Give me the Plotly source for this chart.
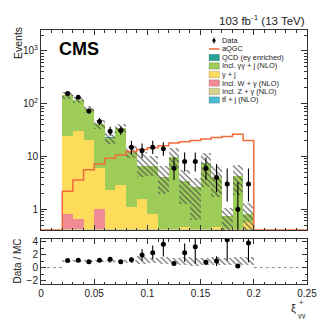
import numpy as np
import plotly.graph_objects as go

# ---------------- data ----------------
bin_edges = [0.02, 0.03, 0.04, 0.05, 0.06, 0.07, 0.08, 0.09, 0.10, 0.11,
             0.12, 0.13, 0.14, 0.15, 0.16, 0.17, 0.18, 0.19, 0.20]

data_counts = [157, 132, 73, 46, 30, 31, 15, 13, 15, 14, 6, 8, 8, 6, 4, 3, 1, 3]
data_err_up = [13, 12, 9.5, 7.8, 6.5, 6.6, 4.8, 4.6, 4.8, 4.7, 3.6, 3.9, 3.9, 3.6, 3.2, 2.9, 2.3, 2.9]
data_err_dn = [12, 11, 8.5, 6.8, 5.4, 5.5, 3.8, 3.6, 3.8, 3.7, 2.4, 2.8, 2.8, 2.4, 1.9, 1.6, 0.83, 1.6]

# stacked backgrounds (bottom -> top)
tt_j = [0.41, 0.41, 0.41, 0.41, 0.41, 0.41, 0.41, 0.41, 0.41, 0.41, 0.41, 0.41, 0.41, 0.41, 0.41, 0.41, 0.41, 0.41]
z_g = [0.01, 0.01, 0.01, 0.01, 0.01, 0.01, 0.01, 0.01, 0.01, 0.01, 0.01, 0.01, 0.01, 0.01, 0.01, 0.01, 0.01, 0.01]
w_g = [0.38, 0.22, 0.0, 0.58, 0.0, 0.0, 0.0, 0.0, 0.0, 0.0, 0.0, 0.0, 0.0, 0.0, 0.0, 0.0, 0.0, 0.0]
g_j = [23.2, 29.2, 20.2, 5.0, 1.88, 2.48, 0.70, 1.13, 0.39, 0.0, 0.0, 0.05, 0.0, 0.0, 0.05, 0.0, 0.0, 0.16]
gg_j = [120, 89, 59, 35, 20.6, 32, 11.3, 5.1, 5.8, 3.6, 9.3, 3.0, 2.2, 7.0, 3.6, 0.32, 3.9, 0.22]
qcd = [0.8, 0.6, 0.4, 0.2, 0.1, 0.15, 0.05, 0.03, 0.03, 0.02, 0.04, 0.01, 0.01, 0.03, 0.02, 0.005, 0.02, 0.005]

mc_unc_up = [20, 17, 12, 8, 5.5, 7, 3.0, 5.5, 3.4, 2.5, 4.5, 2.1, 1.3, 4.0, 2.4, 0.3, 2.6, 0.5]
mc_unc_dn = [20, 17, 12, 8, 5.5, 7, 3.0, 2.6, 2.4, 2.1, 4.2, 2.2, 2.0, 4.8, 2.4, 0.4, 2.5, 0.5]

aqgc = [2.2, 3.6, 5.6, 7.2, 9.3, 10.7, 12.5, 13.5, 14.6, 16, 18, 19, 20, 21.5, 23, 24, 26.5, 20]

ratio = [1.1, 1.12, 0.92, 1.12, 1.3, 0.9, 1.2, 1.95, 2.3, 3.6, 0.62, 2.3, 3.2, 0.82, 1.0, 4.3, 0.25, 3.8]
ratio_err_up = [0.1, 0.12, 0.12, 0.2, 0.35, 0.2, 0.4, 0.9, 1.1, 1.0, 0.3, 1.4, 1.5, 0.4, 0.75, 1.5, 0.15, 0.6]
ratio_err_dn = [0.1, 0.12, 0.12, 0.2, 0.35, 0.2, 0.4, 0.9, 1.0, 1.9, 0.3, 1.4, 2.6, 0.4, 0.75, 3.2, 0.15, 3.0]

legend_labels = ["Data", "aQGC", "QCD (eγ enriched)", "Incl. γγ + j (NLO)", "γ + j",
                 "Incl. W + γ (NLO)", "Incl. Z + γ (NLO)", "tt̄ + j (NLO)"]

# ---------------- styles ----------------
C_QCD = "#26a193"
C_GGJ = "#9dcc58"
C_GJ = "#fddc5c"
C_WG = "#f28b95"
C_ZG = "#d6cf8e"
C_TT = "#4cb8cf"
C_AQGC = "#f06a3a"
FONT = "Liberation Sans, Arial, sans-serif"
AX = "#333333"
TXT = "#222222"

W, H = 332, 319
ML, MR, MT, MB = 33, 33, 22, 43
PW, PH = W - ML - MR, H - MT - MB

def px_x(x):
    return (x - ML) / PW

def px_y(y):
    return (H - MB - y) / PH

Y_MAIN_LO = -0.393
Y_MAIN_HI = 3.397
Y_MIN = 10 ** Y_MAIN_LO

edges = np.array(bin_edges)
centers = 0.5 * (edges[:-1] + edges[1:])
widths = np.diff(edges)

stack_order = [(tt_j, C_TT), (z_g, C_ZG), (w_g, C_WG), (g_j, C_GJ), (gg_j, C_GGJ), (qcd, C_QCD)]
cum = np.cumsum([np.array(v, dtype=float) for v, _ in stack_order], axis=0)
total = cum[-1]

fig = go.Figure()

# stacked histograms (drawn from tallest cumulative to smallest)
for k in range(len(stack_order) - 1, -1, -1):
    fig.add_trace(go.Bar(x=centers, y=cum[k], width=widths, marker=dict(color=stack_order[k][1], line=dict(width=0)),
                         showlegend=False, xaxis="x", yaxis="y", hoverinfo="skip"))

# MC uncertainty band (hatched)
unc_up = np.array(mc_unc_up)
unc_dn = np.array(mc_unc_dn)
band_lo = np.maximum(total - unc_dn, 1e-3)
band_hi = total + unc_up
hatch = dict(shape="\\", fgcolor="#4a4a4a", bgcolor="rgba(0,0,0,0)", size=4, solidity=0.25, fillmode="replace")
fig.add_trace(go.Bar(x=centers, y=band_hi - band_lo, base=band_lo, width=widths,
                     marker=dict(color="rgba(0,0,0,0)", line=dict(width=0), pattern=hatch),
                     showlegend=False, xaxis="x", yaxis="y", hoverinfo="skip"))

# aQGC step line
aq_x = [0.0] + list(edges) + [0.25]
aq_y = [Y_MIN] + list(aqgc) + [Y_MIN, Y_MIN]
fig.add_trace(go.Scatter(x=aq_x, y=aq_y, mode="lines", line=dict(color=C_AQGC, width=1.5, shape="hv"),
                         showlegend=False, xaxis="x", yaxis="y", hoverinfo="skip"))

# data
fig.add_trace(go.Scatter(x=centers, y=data_counts, mode="markers",
                         marker=dict(color="black", size=5, symbol="circle"),
                         error_y=dict(type="data", symmetric=False, array=data_err_up, arrayminus=data_err_dn,
                                      color="black", thickness=1.1, width=0),
                         showlegend=False, xaxis="x", yaxis="y", hoverinfo="skip"))

# ratio panel: MC band
r_lo = band_lo / total
r_hi = band_hi / total
fig.add_trace(go.Bar(x=centers, y=r_hi - r_lo, base=r_lo, width=widths,
                     marker=dict(color="rgba(0,0,0,0)", line=dict(width=0), pattern=hatch),
                     showlegend=False, xaxis="x2", yaxis="y2", hoverinfo="skip"))
# dotted zero level outside the populated range
fig.add_trace(go.Scatter(x=[0.0, edges[0], None, edges[-1], 0.25], y=[0, 0, None, 0, 0], mode="lines",
                         line=dict(color="#888888", width=1, dash="dot"),
                         showlegend=False, xaxis="x2", yaxis="y2", hoverinfo="skip"))
fig.add_trace(go.Scatter(x=centers, y=ratio, mode="markers",
                         marker=dict(color="black", size=5),
                         error_y=dict(type="data", symmetric=False, array=ratio_err_up, arrayminus=ratio_err_dn,
                                      color="black", thickness=1.1, width=0),
                         showlegend=False, xaxis="x2", yaxis="y2", hoverinfo="skip"))

# ---------------- axes ----------------
main_bottom = px_y(222)
ratio_top = px_y(231)

common_x = dict(range=[0, 0.25], ticks="inside", ticklen=5, tickwidth=1, tickcolor=AX,
                showline=True, linecolor=AX, linewidth=1, mirror="allticks", showgrid=False, zeroline=False,
                tickvals=[0, 0.05, 0.1, 0.15, 0.2, 0.25],
                minor=dict(ticks="inside", ticklen=2.5, dtick=0.01, tickcolor=AX, showgrid=False))

maj = [1, 10, 100, 1000]
minor_vals = [m * 10 ** e for e in range(-1, 4) for m in range(2, 10)]
fig.update_layout(
    width=W, height=H, margin=dict(l=ML, r=MR, t=MT, b=MB),
    paper_bgcolor="white", plot_bgcolor="white", barmode="overlay", bargap=0,
    font=dict(family=FONT, size=10, color=TXT),
    showlegend=False,
    xaxis=dict(domain=[0, 1], anchor="y", showticklabels=False, **common_x),
    yaxis=dict(domain=[main_bottom, 1], anchor="x", type="log", range=[Y_MAIN_LO, Y_MAIN_HI],
               tickmode="array", tickvals=maj, ticktext=["1", "10", "10<sup>2</sup>", "10<sup>3</sup>"],
               ticks="inside", ticklen=6, tickcolor=AX, showline=True, linecolor=AX, linewidth=1,
               mirror="allticks", showgrid=False, zeroline=False, tickfont=dict(size=10, color=TXT),
               minor=dict(ticks="inside", ticklen=3, tickmode="array", tickvals=minor_vals, tickcolor=AX,
                          showgrid=False)),
    xaxis2=dict(domain=[0, 1], anchor="y2", showticklabels=True, tickfont=dict(size=10, color=TXT),
                ticktext=["0", "0.05", "0.1", "0.15", "0.2", "0.25"], **common_x),
    yaxis2=dict(domain=[0, ratio_top], anchor="x2", range=[-2.52, 4.4], tickvals=[-2, 0, 2, 4],
                ticktext=["−2", "0", "2", "4"],
                ticks="inside", ticklen=5, tickcolor=AX, showline=True, linecolor=AX, linewidth=1,
                mirror="allticks", showgrid=False, zeroline=False, tickfont=dict(size=10, color=TXT),
                minor=dict(ticks="inside", ticklen=2.5, dtick=1, tickcolor=AX, showgrid=False)),
)

# ---------------- text ----------------
ann = []
ann.append(dict(x=px_x(299), y=px_y(21), xref="paper", yref="paper", xanchor="right", yanchor="bottom",
                text="103 fb<sup>-1</sup> (13 TeV)", showarrow=False, font=dict(size=11.5, color=TXT)))
ann.append(dict(x=px_x(49), y=px_y(29), xref="paper", yref="paper", xanchor="left", yanchor="top",
                text="<b>CMS</b>", showarrow=False, font=dict(size=18, color="black")))
ann.append(dict(x=px_x(2), y=px_y(17), xref="paper", yref="paper", xanchor="left", yanchor="top",
                text="Events", textangle=-90, showarrow=False, font=dict(size=10.5, color=TXT)))
ann.append(dict(x=px_x(2), y=px_y(253), xref="paper", yref="paper", xanchor="left", yanchor="middle",
                text="Data / MC", textangle=-90, showarrow=False, font=dict(size=10, color=TXT)))
ann.append(dict(x=px_x(290), y=px_y(300), xref="paper", yref="paper", xanchor="right", yanchor="middle",
                text="ξ", showarrow=False, font=dict(size=11, color=TXT)))
ann.append(dict(x=px_x(289), y=px_y(294), xref="paper", yref="paper", xanchor="left", yanchor="middle",
                text="+", showarrow=False, font=dict(size=7.5, color=TXT)))
ann.append(dict(x=px_x(288), y=px_y(307), xref="paper", yref="paper", xanchor="left", yanchor="middle",
                text="γγ", showarrow=False, font=dict(size=7.5, color=TXT)))

# manual compact legend
shapes = []
row0, drow = 32.5, 8.5
sx0, sx1, tx = 201, 211.5, 213
swatch_cols = [None, None, C_QCD, C_GGJ, C_GJ, C_WG, C_ZG, C_TT]
for k, lab in enumerate(legend_labels):
    yc = row0 + drow * k
    ann.append(dict(x=px_x(tx), y=px_y(yc), xref="paper", yref="paper", xanchor="left", yanchor="middle",
                    text=lab, showarrow=False, font=dict(size=7.4, color=TXT), borderpad=0))
    if k == 0:
        shapes.append(dict(type="line", xref="paper", yref="paper", x0=px_x(206), x1=px_x(206),
                           y0=px_y(yc - 3), y1=px_y(yc + 3), line=dict(color="black", width=1)))
        shapes.append(dict(type="circle", xref="paper", yref="paper", x0=px_x(204.3), x1=px_x(207.7),
                           y0=px_y(yc - 1.7), y1=px_y(yc + 1.7), fillcolor="black", line=dict(width=0)))
    elif k == 1:
        shapes.append(dict(type="line", xref="paper", yref="paper", x0=px_x(sx0), x1=px_x(sx1),
                           y0=px_y(yc), y1=px_y(yc), line=dict(color=C_AQGC, width=1.5)))
    else:
        shapes.append(dict(type="rect", xref="paper", yref="paper", x0=px_x(sx0), x1=px_x(sx1),
                           y0=px_y(yc - 3.2), y1=px_y(yc + 3.2), fillcolor=swatch_cols[k],
                           line=dict(color="rgba(0,0,0,0.25)", width=0.6)))

fig.update_layout(annotations=ann, shapes=shapes)
fig.write_html("out.html")
